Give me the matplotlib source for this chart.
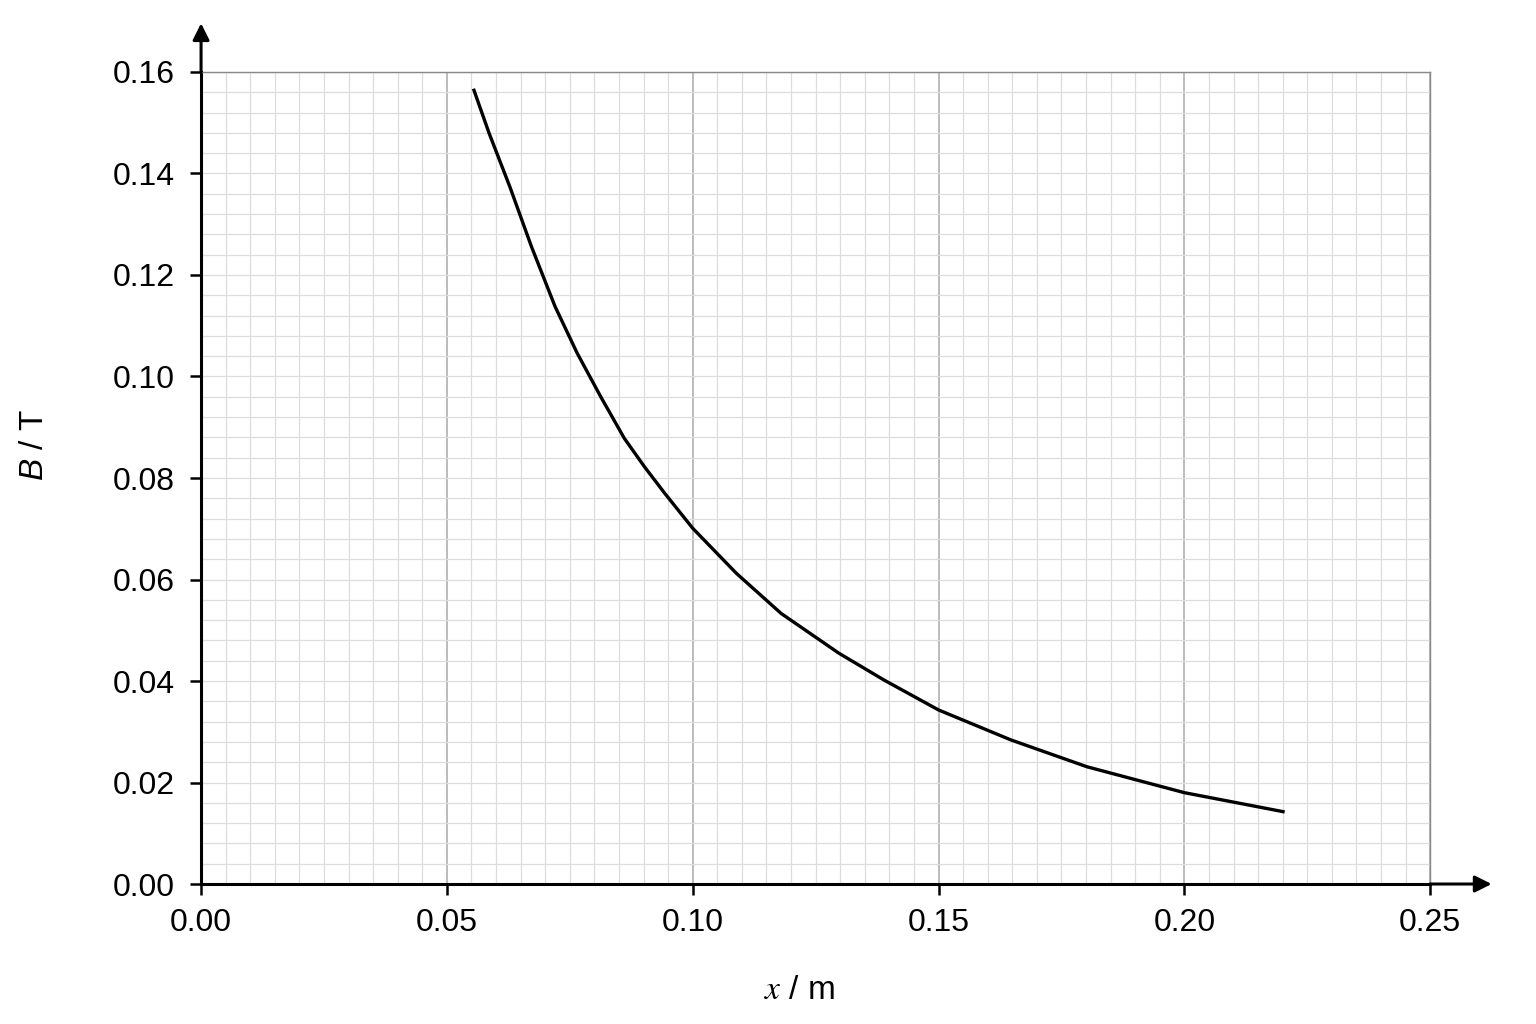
import matplotlib
matplotlib.use("Agg")
import matplotlib.pyplot as plt
import numpy as np

# values
x_m = [0.0554, 0.0586, 0.0628, 0.0672, 0.0720, 0.0765, 0.0813, 0.0861,
       0.0902, 0.0943, 0.1000, 0.1089, 0.1180, 0.1297, 0.1389, 0.1500,
       0.1647, 0.1802, 0.2000, 0.2204]
b_t = [0.1567, 0.1479, 0.1374, 0.1256, 0.1138, 0.1046, 0.0960, 0.0878,
       0.0822, 0.0770, 0.0701, 0.0612, 0.0533, 0.0455, 0.0402, 0.0343,
       0.0284, 0.0231, 0.0180, 0.0142]

x_ticks = [0.00, 0.05, 0.10, 0.15, 0.20, 0.25]
y_ticks = [0.00, 0.02, 0.04, 0.06, 0.08, 0.10, 0.12, 0.14, 0.16]

plt.rcParams['font.family'] = ['Liberation Sans', 'DejaVu Sans']
plt.rcParams['mathtext.fontset'] = 'custom'
plt.rcParams['mathtext.it'] = 'Liberation Sans:italic'
plt.rcParams['mathtext.rm'] = 'Liberation Sans'

fig = plt.figure(figsize=(15.36, 10.24), dpi=100)
ax = fig.add_axes([0.1309, 0.1367, 0.8002, 0.793])

ax.set_xlim(0, 0.25)
ax.set_ylim(0, 0.16)

# graph-paper grid
ax.set_xticks(np.arange(0, 0.2501, 0.005), minor=True)
ax.set_yticks(np.arange(0, 0.1601, 0.004), minor=True)
ax.set_xticks(x_ticks)
ax.set_yticks(y_ticks)
ax.grid(which='minor', color='#dddddd', lw=0.9)
ax.xaxis.grid(which='major', color='#a8a8a8', lw=1.1)
ax.yaxis.grid(which='major', color='#dddddd', lw=0.9)
ax.set_axisbelow(True)
ax.tick_params(which='minor', length=0)

ax.set_xticklabels([f"{v:.2f}" for v in x_ticks])
ax.set_yticklabels([f"{v:.2f}" for v in y_ticks])
ax.tick_params(which='major', direction='out', length=8, width=1.8,
               labelsize=23)
ax.tick_params(axis='x', pad=9)
ax.tick_params(axis='y', pad=11)

for s in ['left', 'bottom']:
    ax.spines[s].set_linewidth(2.2)
    ax.spines[s].set_color('black')
for s in ['top', 'right']:
    ax.spines[s].set_linewidth(1.0)
    ax.spines[s].set_color('#888888')

# axis arrows
ax.annotate('', xy=(0, 1.06), xytext=(0, 1.0), xycoords='axes fraction',
            arrowprops=dict(arrowstyle='-|>', color='black', lw=2.2,
                            mutation_scale=25, shrinkA=0, shrinkB=0),
            annotation_clip=False)
ax.annotate('', xy=(1.05, 0), xytext=(1.0, 0), xycoords='axes fraction',
            arrowprops=dict(arrowstyle='-|>', color='black', lw=2.2,
                            mutation_scale=25, shrinkA=0, shrinkB=0),
            annotation_clip=False)

ax.plot(x_m, b_t, color='black', lw=2.4, solid_capstyle='butt',
        solid_joinstyle='round')

ax.set_xlabel(r'$x$ / m', fontsize=24, math_fontfamily='stix')
ax.set_ylabel(r'$B$ / T', fontsize=24)
ax.xaxis.set_label_coords(0.487, -0.112)
ax.yaxis.set_label_coords(-0.123, 0.54)

plt.savefig('out.png', dpi=100)
